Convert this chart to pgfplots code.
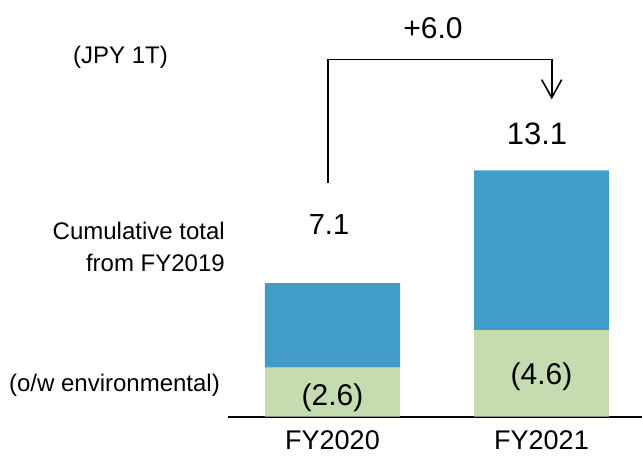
\documentclass[border=0pt]{standalone}
\usepackage{pgfplots}
\pgfplotsset{compat=1.18}
\usepackage{fontspec}
\setmainfont{Liberation Sans}
\usetikzlibrary{arrows.meta}
\definecolor{barblue}{HTML}{429CC9}
\definecolor{bargreen}{HTML}{C5DCB0}
\begin{document}
\begin{tikzpicture}
\begin{axis}[
  scale only axis, width=642pt, height=455pt,
  xmin=-1.5909, xmax=1.4809, ymin=-2.050, ymax=22.178,
  hide axis, clip=false,
  ybar stacked, bar width=135pt,
]
\addplot[fill=bargreen, draw=none] coordinates {(0,2.6) (1,4.6)};
\addplot[fill=barblue, draw=none] coordinates {(0,4.5) (1,8.5)};
\draw[line width=2pt] (axis cs:-0.5,0) -- (axis cs:1.4809,0);
\coordinate (g1) at (axis cs:0,1.0);
\coordinate (g2) at (axis cs:1,2.14);
\node[font=\fontsize{27}{30}\selectfont] at (axis cs:0,-1.251) {FY2020};
\node[font=\fontsize{27}{30}\selectfont] at (axis cs:1,-1.251) {FY2021};
\node[font=\fontsize{29}{32}\selectfont] at (axis cs:-0.0167,10.197) {7.1};
\node[font=\fontsize{31}{34}\selectfont] at (axis cs:0.9785,15.04) {13.1};
\node[font=\fontsize{30}{34}\selectfont] at (axis cs:0.4809,20.69) {+6.0};
\draw[line width=1.6pt, -{Straight Barb[length=18pt, width=20pt, line width=1.6pt]}]
  (axis cs:-0.0201,12.43) -- (axis cs:-0.0201,19.02) -- (axis cs:1.0488,19.02) -- (axis cs:1.0488,16.89);
\node[font=\fontsize{24}{32}\selectfont, align=right, anchor=east, inner sep=0pt] at (axis cs:-0.5144,9.026) {Cumulative total\\from FY2019};
\node[font=\fontsize{24}{30}\selectfont, anchor=east, inner sep=0pt] at (axis cs:-0.538,1.677) {(o/w environmental)};
\node[font=\fontsize{24}{30}\selectfont] at (axis cs:-1.0144,19.14) {(JPY 1T)};
\end{axis}
\node[font=\fontsize{30}{34}\selectfont] at (g1) {(2.6)};
\node[font=\fontsize{30}{34}\selectfont] at (g2) {(4.6)};
\pgfresetboundingbox
\path[use as bounding box] (current axis.south west) rectangle (current axis.north east);
\end{tikzpicture}
\end{document}
